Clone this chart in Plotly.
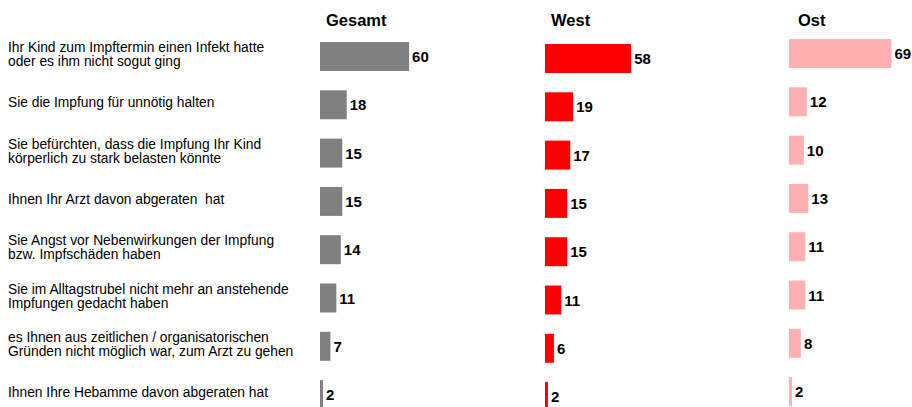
import plotly.graph_objects as go

categories = [
    "Ihr Kind zum Impftermin einen Infekt hatte<br>oder es ihm nicht sogut ging",
    "Sie die Impfung für unnötig halten",
    "Sie befürchten, dass die Impfung Ihr Kind<br>körperlich zu stark belasten könnte",
    "Ihnen Ihr Arzt davon abgeraten  hat",
    "Sie Angst vor Nebenwirkungen der Impfung<br>bzw. Impfschäden haben",
    "Sie im Alltagstrubel nicht mehr an anstehende<br>Impfungen gedacht haben",
    "es Ihnen aus zeitlichen / organisatorischen<br>Gründen nicht möglich war, zum Arzt zu gehen",
    "Ihnen Ihre Hebamme davon abgeraten hat",
]
panels = ["Gesamt", "West", "Ost"]
gesamt = [60, 18, 15, 15, 14, 11, 7, 2]
west = [58, 19, 17, 15, 15, 11, 6, 2]
ost = [69, 12, 10, 13, 11, 11, 8, 2]
series = [gesamt, west, ost]
colors = ["#808080", "#FF0000", "#FFB0B0"]

W, H = 912, 407
FONT = "Liberation Sans, Arial, sans-serif"
px_per_unit = 1.485
pitch = 48.3
x_starts = [320, 545, 789]
x_ends = [520, 745, 912]
row0_center = [56.5, 58.5, 53.5]
title_x = [324, 549, 796]

fig = go.Figure()
layout = dict(
    width=W, height=H, margin=dict(l=0, r=0, t=0, b=0),
    plot_bgcolor="white", paper_bgcolor="white", showlegend=False,
    hovermode=False,
)
annotations = []
for i, (name, vals, col) in enumerate(zip(panels, series, colors)):
    sfx = "" if i == 0 else str(i + 1)
    fig.add_trace(go.Bar(
        x=vals, y=categories, orientation="h", marker_color=col,
        marker_line_width=0, width=0.6,
        text=[str(v) for v in vals], textposition="outside",
        textfont=dict(family=FONT, size=15, color="black", weight="bold"),
        cliponaxis=False, xaxis="x" + sfx, yaxis="y" + sfx,
        hoverinfo="skip",
    ))
    c0 = row0_center[i]
    top = -c0 / pitch
    bottom = (H - c0) / pitch
    layout["xaxis" + sfx] = dict(
        domain=[x_starts[i] / W, x_ends[i] / W],
        range=[0, (x_ends[i] - x_starts[i]) / px_per_unit],
        visible=False, anchor="y" + sfx,
    )
    layout["yaxis" + sfx] = dict(
        domain=[0, 1], range=[bottom, top], visible=False,
        type="category", categoryorder="array", categoryarray=categories,
        anchor="x" + sfx,
    )
    annotations.append(dict(
        text="<b>" + name + "</b>", xref="paper", yref="paper",
        x=title_x[i] / W, y=1 - 20 / H, xanchor="left", yanchor="middle",
        showarrow=False, font=dict(family=FONT, size=16.5, color="black"),
    ))

line_gap = 14
for cat in categories:
    lines = cat.split("<br>")
    n = len(lines)
    for j, ln in enumerate(lines):
        offset = ((n - 1) / 2 - j) * line_gap
        annotations.append(dict(
            text=ln, xref="paper", yref="y", x=6 / W, y=cat,
            xanchor="left", yanchor="middle", align="left", showarrow=False,
            yshift=2 + offset, font=dict(family=FONT, size=13.8, color="black"),
        ))

layout["annotations"] = annotations
fig.update_layout(**layout)
fig.write_html(
    "out.html",
    config={"displayModeBar": False},
    post_script="document.body.style.margin='0';document.body.style.overflow='hidden';",
)
